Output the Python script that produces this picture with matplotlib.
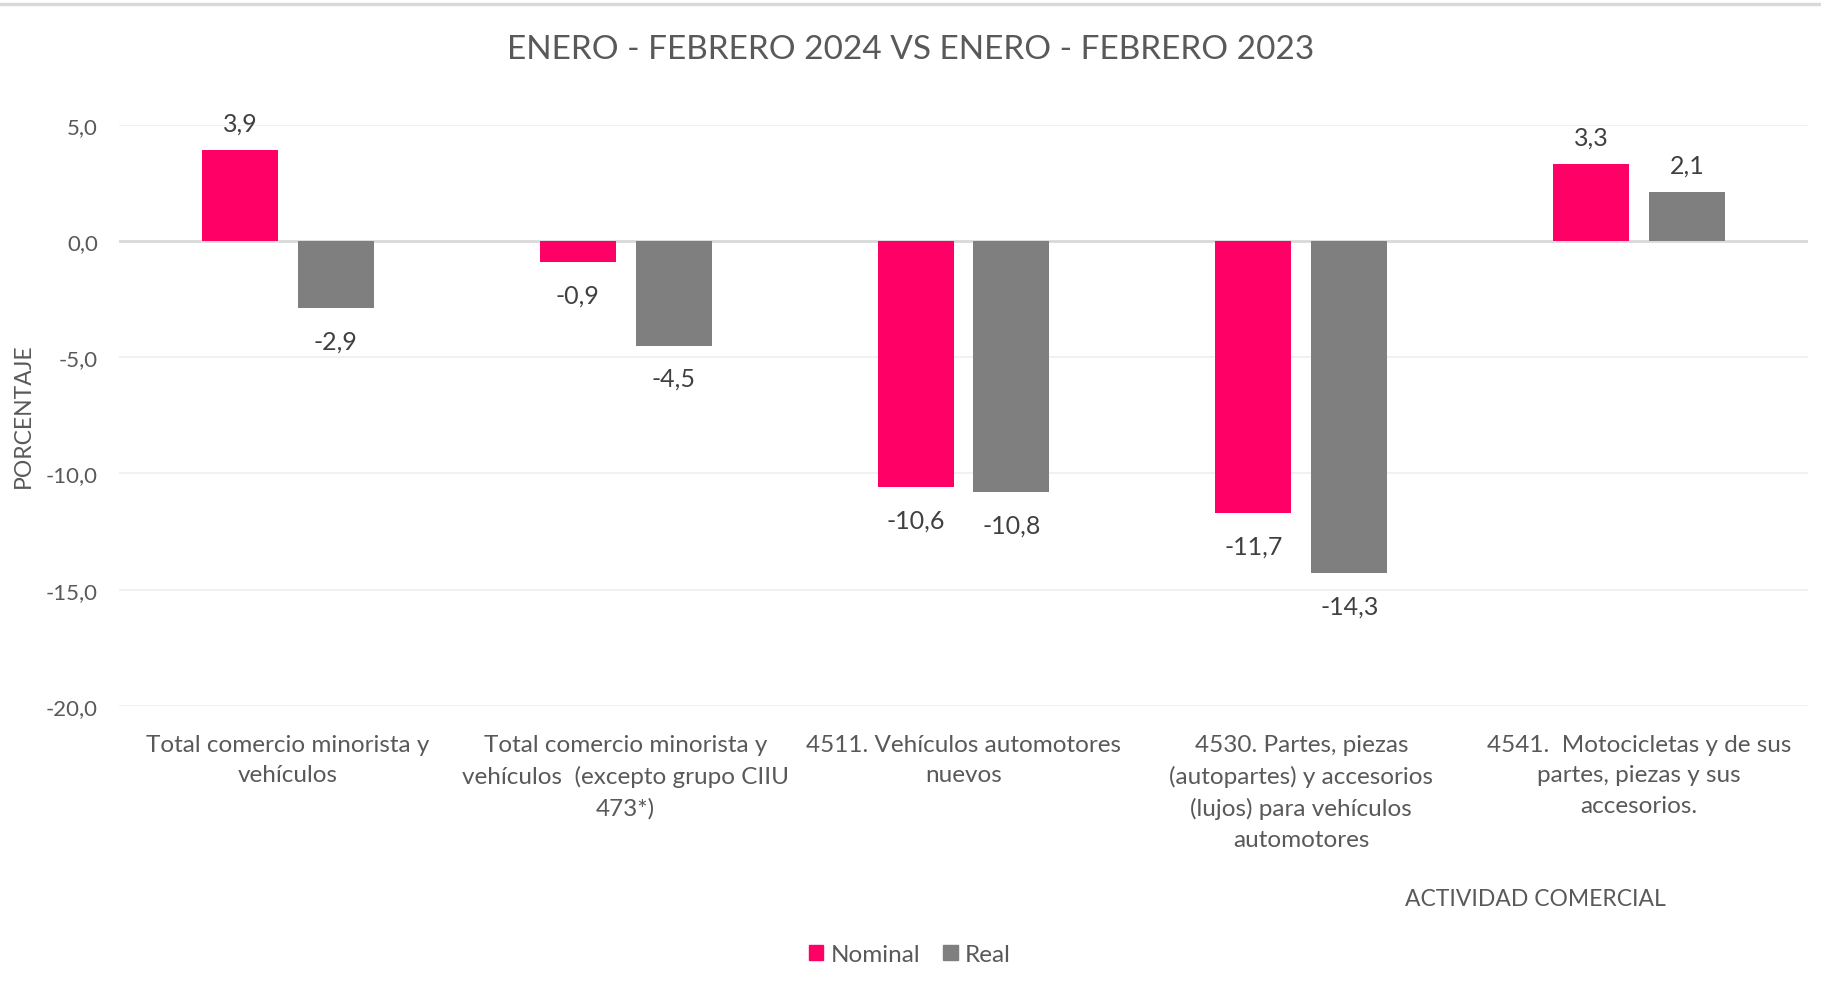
import matplotlib
matplotlib.use('Agg')
import matplotlib.pyplot as plt
import numpy as np
from matplotlib.patches import Patch
from matplotlib.lines import Line2D

# data
categorias = [
    'Total comercio minorista y\nvehículos',
    'Total comercio minorista y\nvehículos  (excepto grupo CIIU\n473*)',
    '4511. Vehículos automotores\nnuevos',
    '4530. Partes, piezas\n(autopartes) y accesorios\n(lujos) para vehículos\nautomotores',
    '4541.  Motocicletas y de sus\npartes, piezas y sus\naccesorios.',
]
nominal = [3.9, -0.9, -10.6, -11.7, 3.3]
real = [-2.9, -4.5, -10.8, -14.3, 2.1]
series_names = ['Nominal', 'Real']
yticks = [5, 0, -5, -10, -15, -20]

pink = '#FF0066'
gray = '#7F7F7F'
txt = '#595959'
light = dict(family='Lato', weight='normal')

fig = plt.figure(figsize=(18.21, 9.87), dpi=100)
ax = fig.add_axes([0.0653, 0.2837, 0.9276, 0.589])

x = np.arange(len(categorias))
w = 0.225
off = 0.142
b1 = ax.bar(x - off, nominal, w, color=pink, zorder=3)
b2 = ax.bar(x + off, real, w, color=gray, zorder=3)

for bars, vals in [(b1, nominal), (b2, real)]:
    for b, v in zip(bars, vals):
        dy = 27 if v >= 0 else -33
        ax.annotate(f'{v:.1f}'.replace('.', ','), (b.get_x() + b.get_width() / 2, v),
                    xytext=(0, dy), textcoords='offset pixels', ha='center', va='center',
                    fontsize=18, color='#404040', **light)

ax.set_xlim(-0.5, len(categorias) - 0.5)
ax.set_ylim(-20, 5)
ax.set_yticks(yticks)
ax.set_yticklabels([f'{t:.1f}'.replace('.', ',') for t in yticks], family='Lato',
                   fontsize=16, color=txt)
for t in yticks:
    if t == 0:
        ax.axhline(t, color='#D9D9D9', lw=2, zorder=2)
    else:
        ax.axhline(t, color='#F0F0F0', lw=1.3, zorder=1)

ax.set_xticks(x)
ax.set_xticklabels(categorias, fontsize=17.5, color=txt, linespacing=1.56, **light)
ax.tick_params(axis='both', length=0)
ax.tick_params(axis='y', pad=15)
ax.tick_params(axis='x', pad=20)
for s in ax.spines.values():
    s.set_visible(False)

fig.text(0.5, 1 - 50 / 987, 'ENERO - FEBRERO 2024 VS ENERO - FEBRERO 2023', ha='center',
         va='center', fontsize=24, color=txt, **light)
fig.text(23 / 1821, 1 - 416 / 987, 'PORCENTAJE', rotation=90, ha='center', va='center',
         fontsize=16.5, color=txt, **light)
fig.text(1535 / 1821, 1 - 900 / 987, 'ACTIVIDAD COMERCIAL', ha='center', va='center',
         fontsize=16.5, color=txt, **light)

# top border
fig.add_artist(Line2D([0, 1], [1 - 5 / 987, 1 - 5 / 987], color='#D9D9D9', lw=2.5))

handles = [Patch(color=pink), Patch(color=gray)]
fig.legend(handles, series_names, loc='center', bbox_to_anchor=(910 / 1821, 1 - 956 / 987),
           ncol=2, frameon=False, handlelength=0.58, handleheight=0.58, handletextpad=0.3,
           columnspacing=0.95, prop=dict(family='Lato', weight='normal', size=17.5),
           labelcolor=txt)

fig.savefig('out.png', dpi=100, facecolor='white')
